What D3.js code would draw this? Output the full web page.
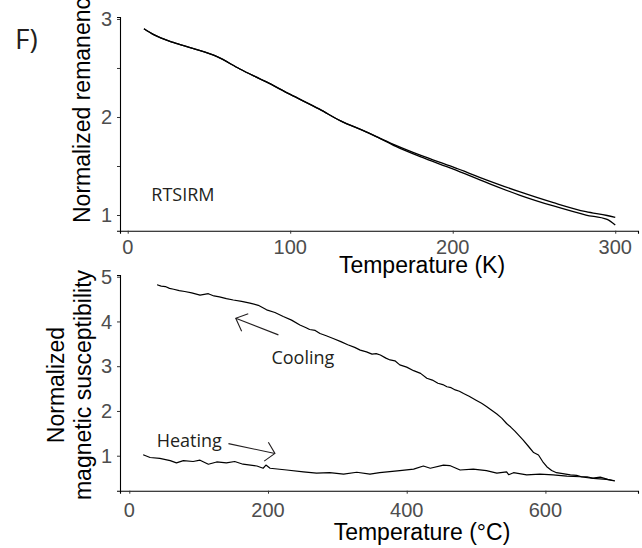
<!DOCTYPE html>
<html>
<head>
<meta charset="utf-8">
<script src="https://cdn.jsdelivr.net/npm/d3@7"></script>
<style>
  html, body { margin: 0; padding: 0; background: #fff; }
  svg { display: block; }
  .tick-label { font-family: "Liberation Sans", Arial, sans-serif; font-size: 20px; fill: #4d4d4d; }
  .axis-title { font-family: "Liberation Sans", Arial, sans-serif; font-size: 23px; fill: #000; }
  .annot { font-family: "Open Sans", sans-serif; font-size: 18px; fill: #231f20; }
</style>
</head>
<body>
<svg id="chart" width="642" height="548"></svg>
<script>
// ---------- DATA ----------
// Top panel: RTSIRM (normalized remanence vs temperature in K)
const rtTemps = [10, 16, 28, 40, 55, 69, 85, 100, 118, 131, 145, 153, 165, 180, 200, 221, 241, 262, 282, 295, 300];
const rtCurveA = [2.90, 2.84, 2.76, 2.70, 2.615, 2.49, 2.36, 2.23, 2.08, 1.96, 1.86, 1.80, 1.71, 1.61, 1.49, 1.357, 1.238, 1.126, 1.034, 0.995, 0.976];
const rtCurveB = [2.90, 2.84, 2.76, 2.70, 2.615, 2.49, 2.36, 2.23, 2.08, 1.96, 1.86, 1.80, 1.70, 1.595, 1.47, 1.33, 1.204, 1.092, 1.0, 0.955, 0.898];

// Bottom panel: susceptibility vs temperature (°C)
const heatTemps = [20, 30, 44, 59, 68, 78, 92, 102, 114, 126, 140, 152, 164, 184, 193, 197, 203, 227, 251, 270, 289, 309, 328, 347, 361, 390, 410, 424, 434, 453, 462, 477, 496, 515, 530, 544, 547, 554, 573, 592, 611, 631, 650, 669, 688, 700];
const heatValues = [1.02, 0.96, 0.94, 0.89, 0.84, 0.89, 0.87, 0.90, 0.81, 0.86, 0.84, 0.87, 0.81, 0.77, 0.72, 0.79, 0.72, 0.68, 0.64, 0.61, 0.62, 0.59, 0.63, 0.59, 0.62, 0.665, 0.70, 0.77, 0.72, 0.79, 0.78, 0.68, 0.70, 0.665, 0.61, 0.64, 0.575, 0.62, 0.57, 0.59, 0.57, 0.545, 0.53, 0.495, 0.47, 0.435];

const coolTemps = [40, 46, 52, 58, 64, 72, 80, 90, 102, 114, 122, 130, 140, 150, 162, 174, 186, 198, 210, 222, 234, 246, 255, 260, 268, 275, 284, 294, 305, 315, 325, 333, 342, 350, 356, 362, 370, 376, 383, 390, 400, 410, 420, 429, 437, 445, 452, 458, 464, 470, 476, 482, 490, 500, 508, 515, 522, 530, 537, 544, 550, 556, 562, 568, 576, 583, 590, 596, 602, 609, 616, 625, 636, 645, 652, 660, 668, 679, 690, 700];
const coolValues = [4.82, 4.79, 4.78, 4.74, 4.72, 4.69, 4.67, 4.64, 4.59, 4.62, 4.57, 4.55, 4.51, 4.48, 4.45, 4.41, 4.36, 4.26, 4.20, 4.11, 4.03, 3.92, 3.86, 3.82, 3.80, 3.73, 3.68, 3.62, 3.55, 3.48, 3.42, 3.36, 3.32, 3.27, 3.28, 3.25, 3.18, 3.14, 3.12, 3.03, 2.98, 2.90, 2.84, 2.73, 2.69, 2.62, 2.59, 2.54, 2.52, 2.47, 2.44, 2.39, 2.33, 2.24, 2.17, 2.10, 2.02, 1.93, 1.84, 1.72, 1.64, 1.55, 1.45, 1.35, 1.20, 1.07, 1.015, 0.87, 0.755, 0.67, 0.62, 0.60, 0.57, 0.56, 0.53, 0.53, 0.50, 0.52, 0.47, 0.44];

const topXTicks = [0, 100, 200, 300];
const topYTicks = [1, 1.5, 2, 2.5, 3];
const topYLabels = ["1", "", "2", "", "3"];
const botXTicks = [0, 200, 400, 600];
const botYTicks = [1, 2, 3, 4, 5];

const panelLabel = "F)";
const topXTitle = "Temperature (K)";
const topYTitle = "Normalized remanence";
const botXTitle = "Temperature (°C)";
const botYTitle = ["Normalized", "magnetic susceptibility"];
const rtLabel = "RTSIRM";
const coolLabel = "Cooling";
const heatLabel = "Heating";

// ---------- DRAW ----------
const svg = d3.select("#chart");

// Scales
const xTop = d3.scaleLinear().domain([-4.74, 314]).range([120, 638]);
const yTop = d3.scaleLinear().domain([0.84, 3.02]).range([230.7, 17]);
const xBot = d3.scaleLinear().domain([-13.4, 733.5]).range([120, 638]);
const yBot = d3.scaleLinear().domain([0.218, 5.038]).range([490.7, 275]);

function drawAxes(x, y, xTicks, yTicks, yLabels, xLabelBaseline) {
  const [x0, x1] = x.range();
  const [y0, y1] = y.range();
  const g = svg.append("g");
  // x axis
  const xa = g.append("g").attr("transform", `translate(0,${y0})`)
    .call(d3.axisBottom(x).tickValues(xTicks).tickSize(3).tickFormat(""));
  xa.select(".domain").attr("stroke", "#000").attr("stroke-width", 1.1);
  xa.selectAll(".tick line").attr("stroke", "#333");
  xTicks.forEach(t => {
    g.append("text").attr("class", "tick-label")
      .attr("x", x(t)).attr("y", xLabelBaseline)
      .attr("text-anchor", "middle").text(d3.format("d")(t));
  });
  // y axis
  const ya = g.append("g").attr("transform", `translate(${x0},0)`)
    .call(d3.axisLeft(y).tickValues(yTicks).tickSize(3).tickFormat(""));
  ya.select(".domain").attr("stroke", "#000").attr("stroke-width", 1.1);
  ya.selectAll(".tick line").attr("stroke", "#333");
  yTicks.forEach((t, i) => {
    const lab = yLabels ? yLabels[i] : String(t);
    if (!lab) return;
    g.append("text").attr("class", "tick-label")
      .attr("x", x0 - 8).attr("y", y(t)).attr("dy", "0.36em")
      .attr("text-anchor", "end").text(lab);
  });
}

drawAxes(xTop, yTop, topXTicks, topYTicks, topYLabels, 253.5);
drawAxes(xBot, yBot, botXTicks, botYTicks, null, 516.5);

// Top curves
const lineTop = d3.line().x(d => xTop(d[0])).y(d => yTop(d[1])).curve(d3.curveMonotoneX);
[rtCurveA, rtCurveB].forEach(vals => {
  svg.append("path")
    .datum(rtTemps.map((t, i) => [t, vals[i]]))
    .attr("d", lineTop).attr("fill", "none")
    .attr("stroke", "#000").attr("stroke-width", 1.3);
});

// Bottom curves
const lineBot = d3.line().x(d => xBot(d[0])).y(d => yBot(d[1]));
[[heatTemps, heatValues], [coolTemps, coolValues]].forEach(([ts, vs]) => {
  svg.append("path")
    .datum(ts.map((t, i) => [t, vs[i]]))
    .attr("d", lineBot).attr("fill", "none")
    .attr("stroke", "#000").attr("stroke-width", 1.2).attr("stroke-linejoin", "round");
});

// Titles
svg.append("text").attr("class", "axis-title")
  .attr("x", 422).attr("y", 272.5).attr("text-anchor", "middle").text(topXTitle);
svg.append("text").attr("class", "axis-title")
  .attr("x", 422).attr("y", 540).attr("text-anchor", "middle").text(botXTitle);
svg.append("text").attr("class", "axis-title")
  .attr("transform", "translate(90,223) rotate(-90)")
  .attr("text-anchor", "start").text(topYTitle);
const byt = svg.append("text").attr("class", "axis-title")
  .attr("transform", "translate(0,385) rotate(-90)")
  .attr("text-anchor", "middle");
byt.append("tspan").attr("x", 0).attr("y", 64).text(botYTitle[0]);
byt.append("tspan").attr("x", 0).attr("y", 91).text(botYTitle[1]);

// Panel label
svg.append("text").attr("x", 15).attr("y", 49)
  .style("font-family", "'Open Sans', sans-serif").style("font-size", "28px").style("fill", "#231f20")
  .text(panelLabel);

// Annotations
svg.append("text").attr("class", "annot").attr("x", xTop(14.5)).attr("y", yTop(1.14)).text(rtLabel);
svg.append("text").attr("class", "annot").attr("x", xBot(205)).attr("y", yBot(3.05)).text(coolLabel);
svg.append("text").attr("class", "annot").attr("x", xBot(39.5)).attr("y", yBot(1.19)).text(heatLabel);

// Arrows (open heads), in data coordinates
function arrow(x, y, from, to, headA, headB) {
  const g = svg.append("g").attr("stroke", "#231f20").attr("stroke-width", 1.1).attr("fill", "none");
  g.append("line").attr("x1", x(from[0])).attr("y1", y(from[1])).attr("x2", x(to[0])).attr("y2", y(to[1]));
  g.append("polyline").attr("points",
    [[x(headA[0]), y(headA[1])], [x(to[0]), y(to[1])], [x(headB[0]), y(headB[1])]].map(p => p.join(",")).join(" "));
}
// Cooling arrow points up-left
arrow(xBot, yBot, [215, 3.70], [153.5, 4.07], [171.5, 4.17], [162, 3.78]);
// Heating arrow points right
arrow(xBot, yBot, [143, 1.27], [210, 1.05], [200.5, 1.30], [194.5, 0.88]);
</script>
</body>
</html>
